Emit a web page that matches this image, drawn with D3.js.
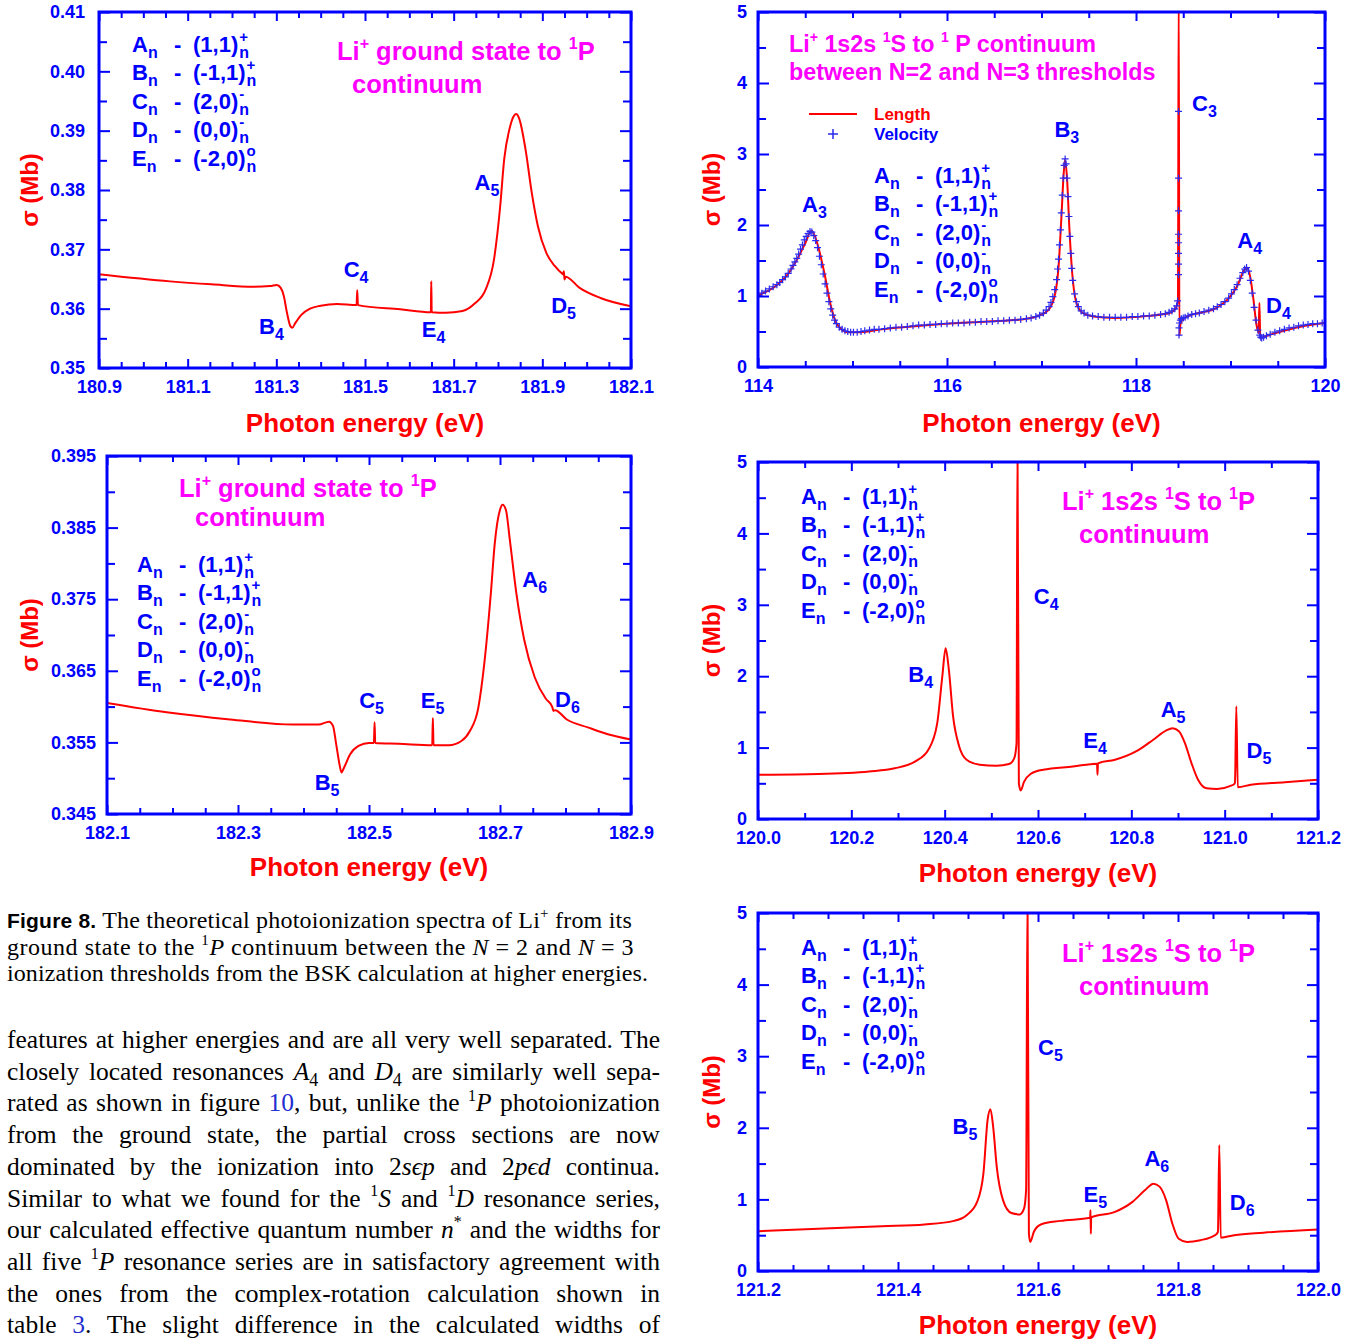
<!DOCTYPE html>
<html><head><meta charset="utf-8">
<script src="https://cdn.jsdelivr.net/npm/d3@7"></script>
<style>html,body{margin:0;padding:0;background:#fff}svg{display:block}</style>
</head><body>
<svg id="fig" width="1356" height="1342"></svg>
<script>
// ---------------- DATA ----------------
// Panel 1: Li+ ground state -> 1P, 180.9-182.1 eV
const p1Energy = [180.900,181.060,181.154,181.249,181.286,181.301,181.310,181.317,181.324,181.332,181.336,181.343,181.357,181.376,181.400,181.437,181.481,181.4825,181.484,181.579,181.6485,181.6495,181.6505,181.682,181.720,181.748,181.772,181.791,181.805,181.814,181.826,181.835,181.841,181.848,181.862,181.876,181.890,181.909,181.928,181.945,181.947,181.9485,181.950,181.9525,181.984,182.031,182.100];
const p1Sigma  = [0.3658,0.3646,0.3641,0.3637,0.3638,0.3640,0.3635,0.3621,0.3593,0.3570,0.3568,0.3576,0.3590,0.3600,0.3605,0.3608,0.3606,0.3631,0.3606,0.3599,0.3594,0.3646,0.3594,0.3593,0.3596,0.3609,0.3632,0.3683,0.3773,0.3852,0.3903,0.3924,0.3928,0.3920,0.3869,0.3796,0.3739,0.3694,0.3672,0.3659,0.3658,0.3663,0.3649,0.3654,0.3635,0.3618,0.3604];
const p1XTicks = [180.9,181.1,181.3,181.5,181.7,181.9,182.1];
const p1YTicks = [0.35,0.36,0.37,0.38,0.39,0.40,0.41];
const p1Labels = [["A","5",181.747,0.3800],["B","4",181.261,0.3558],["C","4",181.452,0.3654],["E","4",181.628,0.3553],["D","5",181.920,0.3592]];

// Panel 2: Li+ 1s2s 1S -> 1P, 114-120 eV (length curve + velocity points)
const p2Energy = [114.000,114.188,114.323,114.412,114.502,114.565,114.600,114.636,114.703,114.771,114.838,114.950,115.084,115.308,115.532,115.980,116.428,116.787,116.966,117.078,117.146,117.181,117.213,117.235,117.249,117.271,117.294,117.325,117.370,117.437,117.549,117.773,118.131,118.355,118.422,118.444,118.452,118.459,118.470,118.489,118.556,118.668,118.848,118.982,119.072,119.139,119.171,119.207,119.243,119.274,119.297,119.306,119.315,119.386,119.565,119.789,120.000];
const p2Length = [1.01,1.14,1.32,1.51,1.75,1.92,1.85,1.70,1.32,0.86,0.60,0.49,0.49,0.53,0.56,0.61,0.64,0.67,0.72,0.81,1.04,1.42,2.17,2.73,2.92,2.64,1.98,1.32,0.90,0.76,0.71,0.69,0.72,0.76,0.83,0.95,5.30,0.44,0.60,0.66,0.72,0.76,0.83,0.97,1.14,1.35,1.40,1.28,0.95,0.60,0.48,0.90,0.41,0.44,0.51,0.58,0.62];
const p2VelEnergy = [114.00,114.04,114.08,114.12,114.16,114.20,114.23,114.26,114.29,114.32,114.35,114.37,114.39,114.41,114.43,114.45,114.47,114.49,114.51,114.53,114.55,114.57,114.59,114.61,114.63,114.65,114.67,114.69,114.71,114.73,114.75,114.77,114.79,114.81,114.83,114.86,114.89,114.92,114.95,114.98,115.01,115.05,115.09,115.13,115.18,115.23,115.28,115.34,115.40,115.46,115.52,115.58,115.64,115.70,115.76,115.82,115.88,115.94,116.00,116.06,116.12,116.18,116.24,116.30,116.36,116.42,116.48,116.54,116.60,116.66,116.72,116.78,116.84,116.89,116.94,116.98,117.02,117.05,117.08,117.10,117.12,117.14,117.16,117.17,117.18,117.19,117.20,117.21,117.22,117.23,117.24,117.25,117.26,117.27,117.28,117.29,117.30,117.31,117.32,117.33,117.35,117.37,117.39,117.42,117.45,117.49,117.54,117.60,117.66,117.72,117.78,117.84,117.90,117.96,118.02,118.08,118.14,118.20,118.26,118.31,118.35,118.38,118.41,118.43,118.44,118.45,118.45,118.45,118.45,118.45,118.45,118.45,118.45,118.455,118.455,118.46,118.47,118.48,118.50,118.52,118.55,118.59,118.63,118.67,118.72,118.77,118.82,118.86,118.90,118.94,118.98,119.01,119.04,119.07,119.10,119.13,119.15,119.17,119.19,119.21,119.23,119.25,119.27,119.29,119.31,119.32,119.33,119.35,119.38,119.42,119.47,119.52,119.57,119.62,119.67,119.72,119.77,119.82,119.87,119.92,119.97];
const p2VelSigma = [1.01,1.04,1.07,1.10,1.13,1.16,1.19,1.23,1.27,1.32,1.38,1.43,1.48,1.53,1.59,1.66,1.72,1.79,1.84,1.88,1.91,1.90,1.85,1.78,1.68,1.56,1.44,1.31,1.17,1.04,0.92,0.82,0.73,0.66,0.61,0.56,0.53,0.51,0.50,0.49,0.49,0.49,0.50,0.51,0.52,0.53,0.53,0.54,0.55,0.56,0.56,0.57,0.58,0.59,0.59,0.60,0.60,0.61,0.61,0.62,0.62,0.62,0.63,0.63,0.64,0.64,0.64,0.65,0.65,0.66,0.66,0.67,0.68,0.69,0.71,0.73,0.76,0.80,0.85,0.91,0.99,1.09,1.23,1.38,1.52,1.72,1.93,2.17,2.42,2.66,2.84,2.93,2.86,2.66,2.40,2.12,1.84,1.60,1.39,1.22,1.03,0.92,0.85,0.79,0.76,0.73,0.72,0.71,0.70,0.70,0.70,0.70,0.70,0.71,0.71,0.72,0.72,0.73,0.74,0.75,0.77,0.79,0.82,0.86,0.93,1.30,1.45,1.60,1.75,1.87,2.20,2.66,3.60,0.45,0.55,0.62,0.66,0.68,0.69,0.70,0.72,0.74,0.75,0.76,0.78,0.80,0.82,0.85,0.88,0.92,0.97,1.03,1.09,1.16,1.25,1.33,1.38,1.40,1.35,1.22,1.04,0.84,0.66,0.52,0.45,0.42,0.41,0.42,0.44,0.46,0.49,0.51,0.53,0.55,0.56,0.58,0.59,0.60,0.61,0.61,0.62];
const p2XTicks = [114,116,118,120];
const p2YTicks = [0,1,2,3,4,5];
const p2Labels = [["A","3",114.466,2.19],["B","3",117.137,3.24],["C","3",118.593,3.60],["A","4",119.072,1.67],["D","4",119.376,0.76]];

// Panel 3: Li+ ground state -> 1P, 182.1-182.9 eV
const p3Energy = [182.100,182.191,182.288,182.384,182.423,182.439,182.445,182.450,182.455,182.458,182.462,182.471,182.484,182.500,182.5075,182.5085,182.5095,182.545,182.5965,182.5975,182.5985,182.622,182.641,182.654,182.667,182.676,182.686,182.692,182.700,182.704,182.709,182.715,182.725,182.737,182.753,182.770,182.779,182.780,182.7815,182.784,182.802,182.834,182.866,182.900];
const p3Sigma  = [0.3605,0.3592,0.3582,0.3575,0.3575,0.3579,0.3573,0.3547,0.3519,0.3508,0.3515,0.3533,0.3545,0.3549,0.3549,0.3578,0.3549,0.3548,0.3546,0.3584,0.3546,0.3546,0.3552,0.3566,0.3599,0.3660,0.3758,0.3828,0.3875,0.3882,0.3875,0.3833,0.3758,0.3693,0.3641,0.3611,0.3601,0.3599,0.3594,0.3595,0.3582,0.3571,0.3561,0.3554];
const p3XTicks = [182.1,182.3,182.5,182.7,182.9];
const p3YTicks = [0.345,0.355,0.365,0.375,0.385,0.395];
const p3Labels = [["A","6",182.734,0.3767],["B","5",182.417,0.3484],["C","5",182.485,0.3598],["E","5",182.579,0.3598],["D","6",182.784,0.3600]];

// Panel 4: Li+ 1s2s 1S -> 1P, 120.0-121.2 eV
const p4Energy = [120.002,120.129,120.238,120.293,120.338,120.365,120.384,120.395,120.402,120.409,120.418,120.431,120.447,120.475,120.511,120.538,120.549,120.554,120.556,120.559,120.563,120.570,120.584,120.611,120.675,120.7265,120.7275,120.7285,120.765,120.811,120.847,120.875,120.888,120.902,120.915,120.929,120.943,120.961,120.984,121.011,121.022,121.025,121.028,121.056,121.129,121.200];
const p4Sigma  = [0.62,0.63,0.665,0.71,0.81,0.97,1.34,2.00,2.39,2.09,1.44,1.02,0.83,0.76,0.745,0.77,0.85,1.06,5.30,0.50,0.40,0.52,0.63,0.69,0.735,0.775,0.62,0.78,0.83,0.95,1.11,1.24,1.27,1.23,1.06,0.78,0.55,0.43,0.42,0.46,0.50,1.58,0.445,0.48,0.515,0.55];
const p4XTicks = [120.0,120.2,120.4,120.6,120.8,121.0,121.2];
const p4YTicks = [0,1,2,3,4,5];
const p4Labels = [["C","4",120.591,3.01],["B","4",120.322,1.92],["E","4",120.697,0.99],["A","5",120.863,1.43],["D","5",121.047,0.85]];

// Panel 5: Li+ 1s2s 1S -> 1P, 121.2-122.0 eV
const p5Energy = [121.201,121.286,121.377,121.438,121.480,121.498,121.513,121.522,121.528,121.532,121.536,121.541,121.550,121.562,121.574,121.580,121.583,121.585,121.587,121.589,121.594,121.604,121.632,121.6745,121.6750,121.6755,121.6760,121.710,121.735,121.753,121.765,121.774,121.783,121.792,121.801,121.813,121.832,121.853,121.857,121.859,121.861,121.880,121.922,122.000];
const p5Sigma  = [0.555,0.59,0.625,0.65,0.70,0.78,0.965,1.36,2.11,2.26,2.01,1.46,0.99,0.81,0.79,0.87,1.13,5.30,0.52,0.405,0.545,0.65,0.70,0.745,0.85,0.52,0.75,0.825,0.965,1.13,1.22,1.175,0.99,0.66,0.45,0.405,0.43,0.50,0.545,1.76,0.465,0.50,0.535,0.58];
const p5XTicks = [121.2,121.4,121.6,121.8,122.0];
const p5YTicks = [0,1,2,3,4,5];
const p5Labels = [["C","5",121.600,3.02],["B","5",121.478,1.92],["E","5",121.665,0.97],["A","6",121.752,1.46],["D","6",121.874,0.85]];

// Resonance series legend
const seriesNames  = ["A","B","C","D","E"];
const seriesTuples = ["(1,1)","(-1,1)","(2,0)","(0,0)","(-2,0)"];
const seriesSigns  = ["+","+","-","-","o"];

// Text
const captionLines = [
  [["Figure 8.","fig"],[" The theoretical photoionization spectra of Li"],["+","sup"],[" from its"]],
  [["ground state to the "],["1","sup"],["P","i"],[" continuum between the "],["N","i"],[" = 2 and "],["N","i"],[" = 3"]],
  [["ionization thresholds from the BSK calculation at higher energies."]]
];
const bodyLines = [
  [["features at higher energies and are all very well separated. The"]],
  [["closely located resonances "],["A","i"],["4","sub"],[" and "],["D","i"],["4","sub"],[" are similarly well sepa-"]],
  [["rated as shown in figure "],["10","link"],[", but, unlike the "],["1","sup"],["P","i"],[" photoionization"]],
  [["from the ground state, the partial cross sections are now"]],
  [["dominated by the ionization into 2"],["s\u03F5p","i"],[" and 2"],["p\u03F5d","i"],[" continua."]],
  [["Similar to what we found for the "],["1","sup"],["S","i"],[" and "],["1","sup"],["D","i"],[" resonance series,"]],
  [["our calculated effective quantum number "],["n","i"],["*","sup"],[" and the widths for"]],
  [["all five "],["1","sup"],["P","i"],[" resonance series are in satisfactory agreement with"]],
  [["the ones from the complex-rotation calculation shown in"]],
  [["table "],["3","link"],[". The slight difference in the calculated widths of"]]
];

// ---------------- DRAWING ----------------
const svg = d3.select("#fig");
const BLUE = "#0000ff", RED = "#ff0000", MAG = "#ff00ff", LINK = "#1f2fd0", VEL = "#2a2af0";
const SANS = "'Liberation Sans', Arial, Helvetica, sans-serif";
const SERIF = "'Liberation Serif', 'Times New Roman', 'DejaVu Serif', serif";

function rich(parent, x, y, segs, o) {
  const t = parent.append("text").attr("x", x).attr("y", y)
    .attr("font-family", o.family || SANS).attr("font-size", o.size)
    .attr("font-weight", o.weight || "bold").attr("fill", o.fill || "#000");
  let cur = 0;
  segs.forEach(sg => {
    const s = sg[0], st = (sg[1] || "").split(" ");
    const ts = t.append("tspan").text(s);
    let target = 0, size = o.size;
    if (st.includes("sup")) { target = -o.size * 0.42; size = Math.round(o.size * 0.62); }
    if (st.includes("sub")) { target = o.size * 0.25; size = Math.round(o.size * 0.7); }
    if (target !== cur) { ts.attr("dy", target - cur); cur = target; }
    if (size !== o.size) ts.attr("font-size", size);
    if (st.includes("i")) ts.attr("font-style", "italic");
    if (st.includes("link")) ts.attr("fill", LINK);
    if (st.includes("fig")) ts.attr("font-family", SANS).attr("font-weight", "bold").attr("font-size", Math.round(o.size * 0.88));
  });
  return t;
}

function legendBlock(g, x0, y0) {
  const base = g.append("g").attr("fill", BLUE).attr("font-family", SANS).attr("font-weight", "bold");
  seriesNames.forEach((nm, i) => {
    const yy = y0 + i * 28.4;
    const t = base.append("text").attr("x", x0).attr("y", yy).attr("font-size", 22);
    t.append("tspan").text(nm);
    t.append("tspan").text("n").attr("font-size", 16).attr("dy", 6);
    base.append("text").attr("x", x0 + 42).attr("y", yy).attr("font-size", 22).text("-");
    const tu = base.append("text").attr("x", x0 + 61).attr("y", yy).attr("font-size", 22).text(seriesTuples[i]);
    const w = tu.node().getComputedTextLength();
    base.append("text").attr("x", x0 + 61 + w + 1).attr("y", yy - 10).attr("font-size", 15).text(seriesSigns[i]);
    base.append("text").attr("x", x0 + 61 + w + 1).attr("y", yy + 6).attr("font-size", 16).text("n");
  });
}

function minorRange(d, step) {
  const n = Math.round((d[1] - d[0]) / step);
  return d3.range(n + 1).map(i => +(d[0] + i * step).toFixed(5));
}

function panel(cfg) {
  const { l, t, r, b } = cfg.box;
  const x = d3.scaleLinear().domain(cfg.xDomain).range([l, r]);
  const y = d3.scaleLinear().domain(cfg.yDomain).range([b, t]);
  const g = svg.append("g");
  const clipId = "clip" + cfg.id;
  svg.append("clipPath").attr("id", clipId).append("rect")
    .attr("x", l).attr("y", t).attr("width", r - l).attr("height", b - t);

  const pts = d3.zip(cfg.energy, cfg.sigma);
  g.append("path").datum(pts).attr("clip-path", `url(#${clipId})`)
    .attr("fill", "none").attr("stroke", RED).attr("stroke-width", 2).attr("stroke-linejoin", "round")
    .attr("d", d3.line().x(d => x(d[0])).y(d => y(d[1])).curve(d3.curveMonotoneX));

  if (cfg.velE) {
    g.append("g").attr("clip-path", `url(#${clipId})`).selectAll("path")
      .data(d3.zip(cfg.velE, cfg.velS)).join("path")
      .attr("transform", d => `translate(${x(d[0])},${y(d[1])})`)
      .attr("d", "M-3.5,0H3.5M0,-3.5V3.5").attr("stroke", VEL).attr("stroke-width", 1.2).attr("fill", "none");
  }

  g.append("rect").attr("x", l).attr("y", t).attr("width", r - l).attr("height", b - t)
    .attr("fill", "none").attr("stroke", BLUE).attr("stroke-width", 3);

  const M = 9, m = 6;
  const xMinor = minorRange(cfg.xDomain, cfg.xStep).filter(v => !cfg.xTicks.some(u => Math.abs(u - v) < 1e-6));
  const yMinor = minorRange(cfg.yDomain, cfg.yStep).filter(v => !cfg.yTicks.some(u => Math.abs(u - v) < 1e-6));
  const add = (axis, tr) => {
    const a = g.append("g").attr("transform", tr).call(axis);
    a.select(".domain").remove();
    a.selectAll("line").attr("stroke", BLUE).attr("stroke-width", 2);
    return a;
  };
  const bot = add(d3.axisBottom(x).tickValues(cfg.xTicks).tickSizeInner(-M).tickSizeOuter(0).tickPadding(12).tickFormat(cfg.xFmt), `translate(0,${b})`);
  add(d3.axisBottom(x).tickValues(xMinor).tickSizeInner(-m).tickSizeOuter(0).tickFormat(""), `translate(0,${b})`);
  add(d3.axisTop(x).tickValues(cfg.xTicks).tickSizeInner(-M).tickSizeOuter(0).tickFormat(""), `translate(0,${t})`);
  add(d3.axisTop(x).tickValues(xMinor).tickSizeInner(-m).tickSizeOuter(0).tickFormat(""), `translate(0,${t})`);
  const lef = add(d3.axisLeft(y).tickValues(cfg.yTicks).tickSizeInner(-M - 2).tickSizeOuter(0).tickPadding(cfg.yPad).tickFormat(cfg.yFmt), `translate(${l},0)`);
  add(d3.axisLeft(y).tickValues(yMinor).tickSizeInner(-m - 2).tickSizeOuter(0).tickFormat(""), `translate(${l},0)`);
  add(d3.axisRight(y).tickValues(cfg.yTicks).tickSizeInner(-M - 2).tickSizeOuter(0).tickFormat(""), `translate(${r},0)`);
  add(d3.axisRight(y).tickValues(yMinor).tickSizeInner(-m - 2).tickSizeOuter(0).tickFormat(""), `translate(${r},0)`);
  [bot, lef].forEach(a => a.selectAll("text").attr("fill", BLUE).attr("font-size", 18)
    .attr("font-weight", "bold").attr("font-family", SANS));

  g.append("text").attr("x", (l + r) / 2).attr("y", b + cfg.xTitleOff).attr("text-anchor", "middle")
    .attr("font-family", SANS).attr("font-weight", "bold").attr("font-size", 26).attr("fill", RED)
    .text("Photon energy (eV)");
  g.append("text").attr("transform", `translate(${cfg.yTitleX},${(t + b) / 2}) rotate(-90)`)
    .attr("text-anchor", "middle").attr("font-family", SANS).attr("font-weight", "bold")
    .attr("font-size", 24).attr("fill", RED).text("\u03C3 (Mb)");

  cfg.title.forEach(tl => rich(g, l + tl.dx, t + tl.dy, tl.segs, { size: cfg.titleSize, fill: MAG }));

  legendBlock(g, l + cfg.leg[0], t + cfg.leg[1]);

  cfg.labels.forEach(([nm, sub, e, s]) => {
    const tx = g.append("text").attr("x", x(e)).attr("y", y(s)).attr("fill", BLUE)
      .attr("font-family", SANS).attr("font-weight", "bold").attr("font-size", 22);
    tx.append("tspan").text(nm);
    tx.append("tspan").text(sub).attr("font-size", 16).attr("dy", 6);
  });
  return { g, x, y };
}

const titleGround = [
  [["Li"], ["+", "sup"], [" ground state to "], ["1", "sup"], ["P"]],
  [["continuum"]]
];
const titleExcited = [
  [["Li"], ["+", "sup"], [" 1s2s "], ["1", "sup"], ["S to "], ["1", "sup"], ["P"]],
  [["continuum"]]
];
const titleP2 = [
  [["Li"], ["+", "sup"], [" 1s2s "], ["1", "sup"], ["S to "], ["1", "sup"], [" P continuum"]],
  [["between N=2 and N=3 thresholds"]]
];

panel({ id: 1, box: { l: 99, t: 12, r: 631, b: 368 }, xDomain: [180.9, 182.1], yDomain: [0.35, 0.41],
  energy: p1Energy, sigma: p1Sigma, xTicks: p1XTicks, yTicks: p1YTicks, xStep: 0.05, yStep: 0.005,
  xFmt: d3.format(".1f"), yFmt: d3.format(".2f"), yPad: 14, xTitleOff: 64, yTitleX: 38,
  titleSize: 25.5, title: [{ dx: 238, dy: 48, segs: titleGround[0] }, { dx: 253, dy: 81, segs: titleGround[1] }],
  leg: [33, 40], labels: p1Labels });

const P2 = panel({ id: 2, box: { l: 758, t: 12, r: 1325, b: 367 }, xDomain: [114, 120], yDomain: [0, 5],
  energy: p2Energy, sigma: p2Length, velE: p2VelEnergy, velS: p2VelSigma,
  xTicks: p2XTicks, yTicks: p2YTicks, xStep: 0.5, yStep: 0.5,
  xFmt: d3.format("d"), yFmt: d3.format("d"), yPad: 11, xTitleOff: 65, yTitleX: 720,
  titleSize: 23.3, title: [{ dx: 31, dy: 40, segs: titleP2[0] }, { dx: 31, dy: 68, segs: titleP2[1] }],
  leg: [116, 171], labels: p2Labels });

{
  const g = P2.g, l = 758, t = 12;
  g.append("line").attr("x1", l + 51).attr("x2", l + 99).attr("y1", t + 102).attr("y2", t + 102)
    .attr("stroke", RED).attr("stroke-width", 2);
  g.append("path").attr("transform", `translate(${l + 75},${t + 122})`).attr("d", "M-5,0H5M0,-5V5")
    .attr("stroke", VEL).attr("stroke-width", 1.5);
  g.append("text").attr("x", l + 116).attr("y", t + 108).attr("fill", RED).attr("font-family", SANS)
    .attr("font-weight", "bold").attr("font-size", 17).text("Length");
  g.append("text").attr("x", l + 116).attr("y", t + 128).attr("fill", BLUE).attr("font-family", SANS)
    .attr("font-weight", "bold").attr("font-size", 17).text("Velocity");
}

panel({ id: 3, box: { l: 107, t: 456, r: 631, b: 814 }, xDomain: [182.1, 182.9], yDomain: [0.345, 0.395],
  energy: p3Energy, sigma: p3Sigma, xTicks: p3XTicks, yTicks: p3YTicks, xStep: 0.05, yStep: 0.005,
  xFmt: d3.format(".1f"), yFmt: d3.format(".3f"), yPad: 11, xTitleOff: 62, yTitleX: 38,
  titleSize: 25.5, title: [{ dx: 72, dy: 41, segs: titleGround[0] }, { dx: 88, dy: 70, segs: titleGround[1] }],
  leg: [30, 116], labels: p3Labels });

panel({ id: 4, box: { l: 758, t: 462, r: 1318, b: 819 }, xDomain: [120.0, 121.2], yDomain: [0, 5],
  energy: p4Energy, sigma: p4Sigma, xTicks: p4XTicks, yTicks: p4YTicks, xStep: 0.1, yStep: 0.5,
  xFmt: d3.format(".1f"), yFmt: d3.format("d"), yPad: 11, xTitleOff: 63, yTitleX: 720,
  titleSize: 25.5, title: [{ dx: 304, dy: 48, segs: titleExcited[0] }, { dx: 321, dy: 81, segs: titleExcited[1] }],
  leg: [43, 42], labels: p4Labels });

panel({ id: 5, box: { l: 758, t: 913, r: 1318, b: 1271 }, xDomain: [121.2, 122.0], yDomain: [0, 5],
  energy: p5Energy, sigma: p5Sigma, xTicks: p5XTicks, yTicks: p5YTicks, xStep: 0.05, yStep: 0.5,
  xFmt: d3.format(".1f"), yFmt: d3.format("d"), yPad: 11, xTitleOff: 63, yTitleX: 720,
  titleSize: 25.5, title: [{ dx: 304, dy: 49, segs: titleExcited[0] }, { dx: 321, dy: 82, segs: titleExcited[1] }],
  leg: [43, 42], labels: p5Labels });

// ---------------- CAPTION & BODY TEXT ----------------
function fitLine(t, target, mode) {
  const w = t.node().getComputedTextLength();
  const txt = t.text();
  if (mode === "word") {
    const n = (txt.match(/ /g) || []).length;
    if (n) t.style("word-spacing", ((target - w) / n) + "px");
  } else {
    const n = txt.length;
    t.style("letter-spacing", ((target - w) / n) + "px");
  }
}
const captionBase = [928, 955, 981];
const captionWidth = [625, 627, 641];
captionLines.forEach((segs, i) => {
  const t = rich(svg, 7, captionBase[i], segs, { size: 24, family: SERIF, weight: "normal", fill: "#000" });
  fitLine(t, captionWidth[i], "letter");
});
bodyLines.forEach((segs, i) => {
  const t = rich(svg, 7, 1048 + i * 31.7, segs, { size: 25.5, family: SERIF, weight: "normal", fill: "#000" });
  fitLine(t, 653, "word");
});
</script>
</body></html>
